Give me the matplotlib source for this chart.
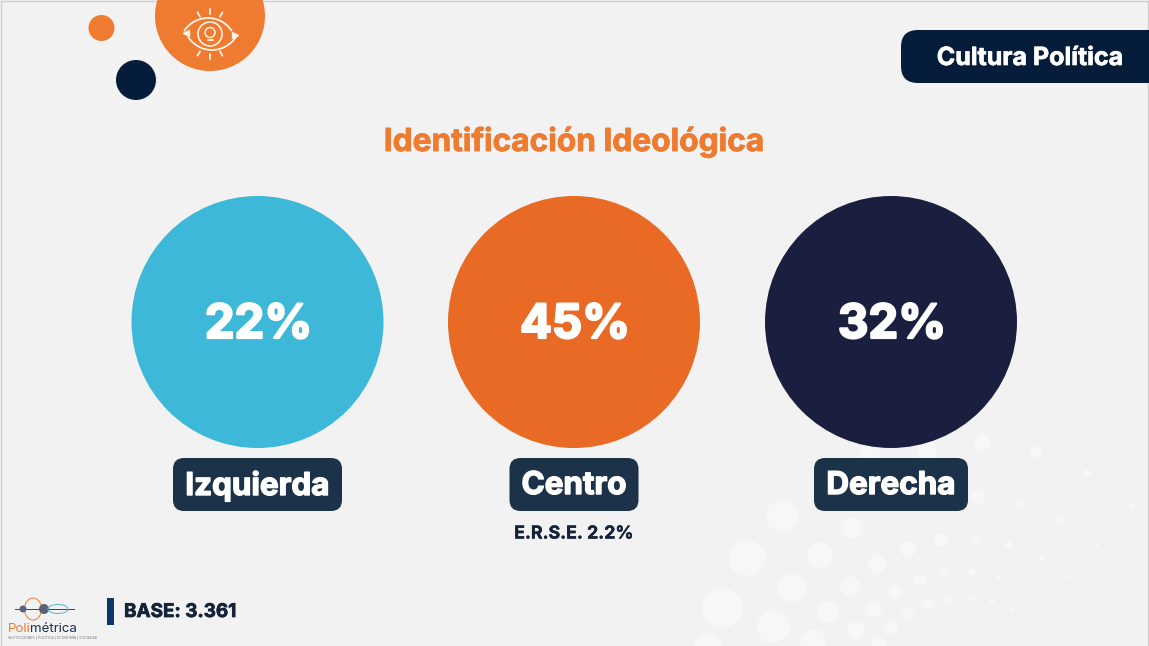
import matplotlib
matplotlib.use("Agg")
import matplotlib.pyplot as plt
import matplotlib.patheffects as pe
from matplotlib.patches import Circle, FancyBboxPatch, Rectangle, Arc
import numpy as np

plt.rcParams["font.family"] = ["Inter", "DejaVu Sans"]

categories = ["Izquierda", "Centro", "Derecha"]
values = [22, 45, 32]
colors = ["#3EB8D8", "#E86A24", "#1B1F3F"]
title = "Identificación Ideológica"
section = "Cultura Política"
note = "E.R.S.E. 2.2%"
base_label = "BASE: 3.361"

NAVY = "#051C3A"
BADGE = "#1B3249"
ORANGE = "#EE7B30"
BG = "#F2F2F2"
ICON = "#FFF3E6"

# puntos decorativos del fondo (x, y, r en pixeles)
dots = [
    (782, 516, 16), (747, 558, 18), (722, 608, 20), (773, 627, 16), (708, 650, 15),
    (792, 588, 14), (820, 555, 13), (853, 528, 11), (828, 612, 11), (813, 642, 13),
    (850, 586, 10), (877, 564, 9), (908, 549, 8), (941, 540, 7), (975, 539, 5),
    (1009, 545, 4), (1041, 558, 3), (1069, 578, 2), (1061, 520, 4), (1021, 504, 5),
    (978, 497, 7), (1087, 473, 4), (1036, 452, 6), (982, 443, 8), (1132, 505, 3),
    (1097, 546, 2), (895, 592, 7), (919, 580, 6), (945, 573, 5), (972, 572, 4),
    (999, 577, 3), (1024, 588, 2), (874, 609, 8), (928, 604, 5), (949, 599, 4),
    (971, 599, 3), (992, 602, 3), (1012, 610, 2), (908, 614, 6), (891, 627, 7),
    (856, 630, 9), (878, 643, 7), (870, 453, 10), (927, 450, 10),
]


def heavy(color, width):
    # Inter bold queda fino frente al original, se engorda con un trazo
    return [pe.withStroke(linewidth=width, foreground=color)]


fig = plt.figure(figsize=(11.49, 6.46), dpi=100, facecolor=BG)
ax = fig.add_axes([0, 0, 1, 1])
ax.set_xlim(0, 1149)
ax.set_ylim(646, 0)
ax.axis("off")

for x, y, r in dots:
    ax.add_patch(Circle((x, y), r, color="#F7F7F7", lw=0, zorder=1))

# borde de la lamina
ax.plot([0.5, 0.5, 1148, 1148], [646, 0.5, 0.5, 646], color="#CFCFCF", lw=1.0, zorder=1)

# decoracion arriba
ax.add_patch(Circle((210, 16), 55, color=ORANGE, lw=0, zorder=2))
ax.add_patch(Circle((101.5, 28), 13, color=ORANGE, lw=0, zorder=2))
ax.add_patch(Circle((136, 80), 20, color=NAVY, lw=0, zorder=2))

# icono ojo con foco
cx, cy = 210, 34
ink = dict(color=ICON, lw=1.3, zorder=3, solid_capstyle="round")
ax.add_patch(Circle((cx, cy), 12, fill=False, ec=ICON, lw=1.2, zorder=3))
ax.add_patch(Circle((cx, cy - 1.5), 5, fill=False, ec=ICON, lw=1.1, zorder=3))
ax.plot([cx - 2.5, cx + 2.5], [cy + 6, cy + 6], **ink)
ax.add_patch(Arc((cx - 2, cy + 14), 58, 60, theta1=215, theta2=325, ec=ICON, lw=1.3, zorder=3))
ax.add_patch(Arc((cx + 2, cy - 14), 58, 60, theta1=35, theta2=145, ec=ICON, lw=1.3, zorder=3))
ax.plot([cx - 24], [cy - 1], marker="<", ms=4.5, color=ICON, zorder=3)
ax.plot([cx + 25], [cy + 1], marker=">", ms=4.5, color=ICON, zorder=3)
for ang in [-60, -90, -120, 60, 90, 120]:
    a = np.deg2rad(ang)
    ax.plot([cx + 20 * np.cos(a), cx + 25 * np.cos(a)],
            [cy + 20 * np.sin(a), cy + 25 * np.sin(a)], **ink)

# etiqueta de seccion
ax.add_patch(FancyBboxPatch((901, 30), 300, 53, boxstyle="round,pad=0,rounding_size=17",
                            fc=NAVY, ec="none", zorder=2))
ax.text(1030, 58.5, section, color="white", fontsize=18, fontweight="bold",
        ha="center", va="center", zorder=4, path_effects=heavy("white", 0.5))

ax.text(574, 142, title, color=ORANGE, fontsize=22.8, fontweight="bold",
        ha="center", va="center", zorder=4, path_effects=heavy(ORANGE, 0.6))

# circulos y etiquetas
centers = [257.5, 574, 891]
badge_w = [169, 129, 154]
for xc, cat, val, col, w in zip(centers, categories, values, colors, badge_w):
    ax.add_patch(Circle((xc, 322), 126, color=col, lw=0, zorder=3))
    ax.text(xc + 1, 326, f"{val}%", color="white", fontsize=34, fontweight="bold",
            ha="center", va="center", zorder=4, path_effects=heavy("white", 1.6))
    ax.add_patch(FancyBboxPatch((xc - w / 2, 458), w, 53, boxstyle="round,pad=0,rounding_size=11",
                                fc=BADGE, ec="none", zorder=3))
    ax.text(xc, 486, cat, color="white", fontsize=22.6, fontweight="bold",
            ha="center", va="center", zorder=4, path_effects=heavy("white", 1.0))

ax.text(574, 534, note, color="#14233A", fontsize=12.8, fontweight="bold",
        ha="center", va="center", zorder=4, path_effects=heavy("#14233A", 0.3))

# base
ax.add_patch(Rectangle((107, 598), 7, 27, fc="#0B3768", ec="none", zorder=3))
ax.text(124, 612, base_label, color="#14233A", fontsize=13.6, fontweight="bold",
        ha="left", va="center", zorder=4, path_effects=heavy("#14233A", 0.5))

# logo
ax.plot([15, 74], [609, 609], color="#33415C", lw=0.7, zorder=3)
ax.add_patch(Arc((33, 609), 17, 22, ec=ORANGE, lw=0.7, zorder=3))
ax.add_patch(Circle((23, 609), 3.5, fc="#5A6478", ec="none", zorder=3))
ax.add_patch(Circle((44, 609), 5, fc="#5A6478", ec="none", zorder=3))
ax.add_patch(Arc((58, 609), 20, 9, ec="#5AB4CC", lw=0.7, zorder=3))
ax.text(8, 628.5, "Poli", color=ORANGE, fontsize=9.6, ha="left", va="center", zorder=4)
ax.text(30, 628.5, "métrica", color=BADGE, fontsize=9.6, ha="left", va="center", zorder=4)
ax.text(8, 637.5, "INSTITUCIONES | POLÍTICA | ECONOMÍA | SOCIEDAD", color="#777777",
        fontsize=2.5, ha="left", va="center", zorder=4)

fig.savefig("out.png", dpi=100, facecolor=BG)
